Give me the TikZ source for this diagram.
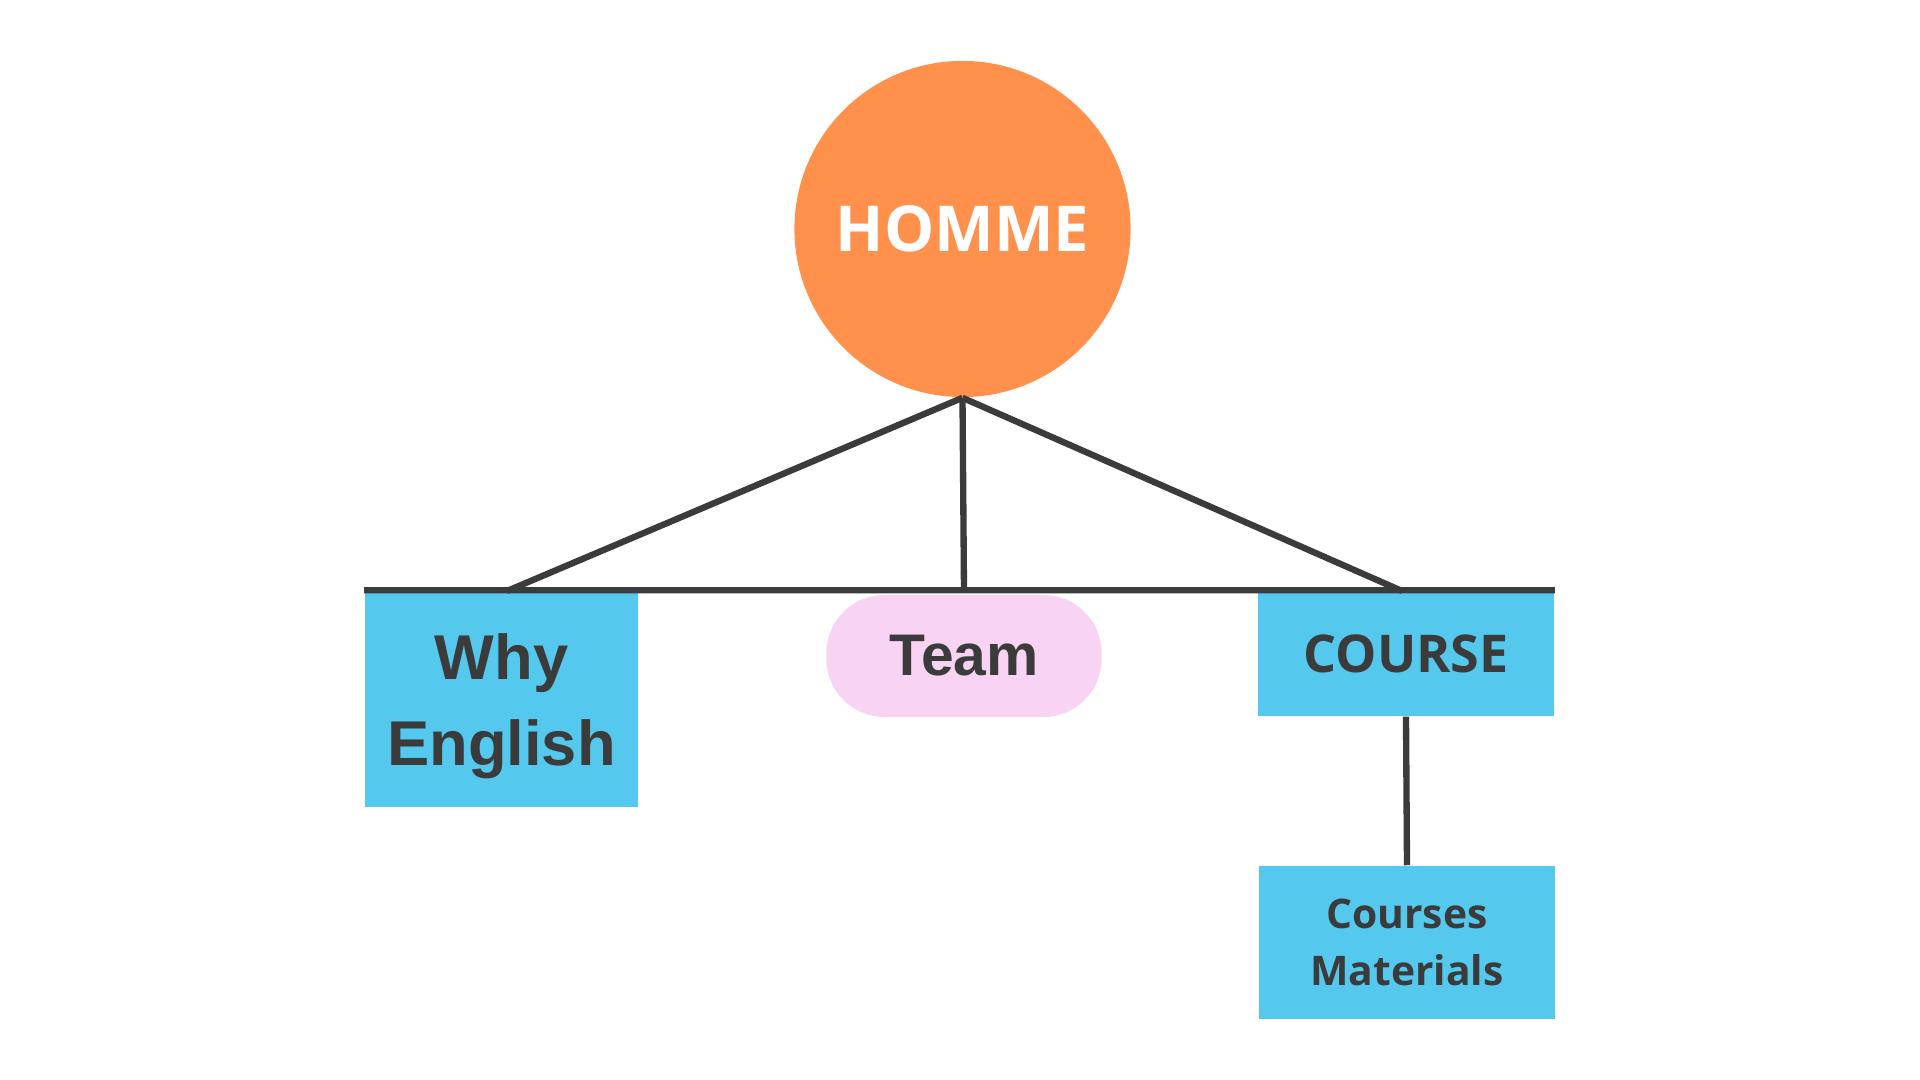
\documentclass[tikz,border=0pt]{standalone}
\usepackage{fontspec}
\setmainfont{Open Sans}
\newfontfamily\heros{Liberation Sans}
\definecolor{hommeorange}{HTML}{FF914D}
\definecolor{boxblue}{HTML}{54C8ED}
\definecolor{pillpink}{HTML}{F9D3F3}
\definecolor{inkgrey}{HTML}{3B3B3B}
\tikzset{
	link/.style={draw=inkgrey, line width=1.8pt},
	bluebox/.style={fill=boxblue, inner sep=0pt, align=center, text=inkgrey, font=\bfseries},
}
\begin{document}
\begin{tikzpicture}[x=0.01cm, y=-0.01cm]
	\useasboundingbox (0,0) rectangle (1920,1080);

	\node[circle, fill=hommeorange, minimum size=3.36cm, inner sep=0pt,
		text=white, font=\fontsize{18}{20}\selectfont\bfseries] (homme) at (962.5,229) {HOMME};

	\node[bluebox, minimum width=2.73cm, minimum height=2.16cm,
		font=\heros\fontsize{18}{24.5}\selectfont\bfseries] (why) at (501.5,699) {\rule{0pt}{17pt}Why\\English};
	\node[fill=pillpink, rounded corners=0.58cm, minimum width=2.75cm, minimum height=1.22cm,
		text=inkgrey, font=\heros\fontsize{16.7}{18}\selectfont\bfseries] (team) at (964,656) {Team};
	\node[bluebox, minimum width=2.96cm, minimum height=1.25cm,
		font=\fontsize{14.8}{16}\selectfont\bfseries] (course) at (1406,653.5) {COURSE};
	\node[bluebox, minimum width=2.96cm, minimum height=1.53cm,
		font=\fontsize{11.6}{16.4}\selectfont\bfseries] (materials) at (1407,942.5) {Courses\\Materials};

	\coordinate (whytop) at (507,591);
	\coordinate (teamtop) at (964,591);
	\coordinate (coursetop) at (1402,591);

	\draw[link] (why.north west) -- (course.north east);
	\draw[link] (homme.south) -- (whytop);
	\draw[link] (homme.south) -- (teamtop);
	\draw[link] (homme.south) -- (coursetop);
	\draw[link] (course.south) -- (materials.north);
\end{tikzpicture}
\end{document}
